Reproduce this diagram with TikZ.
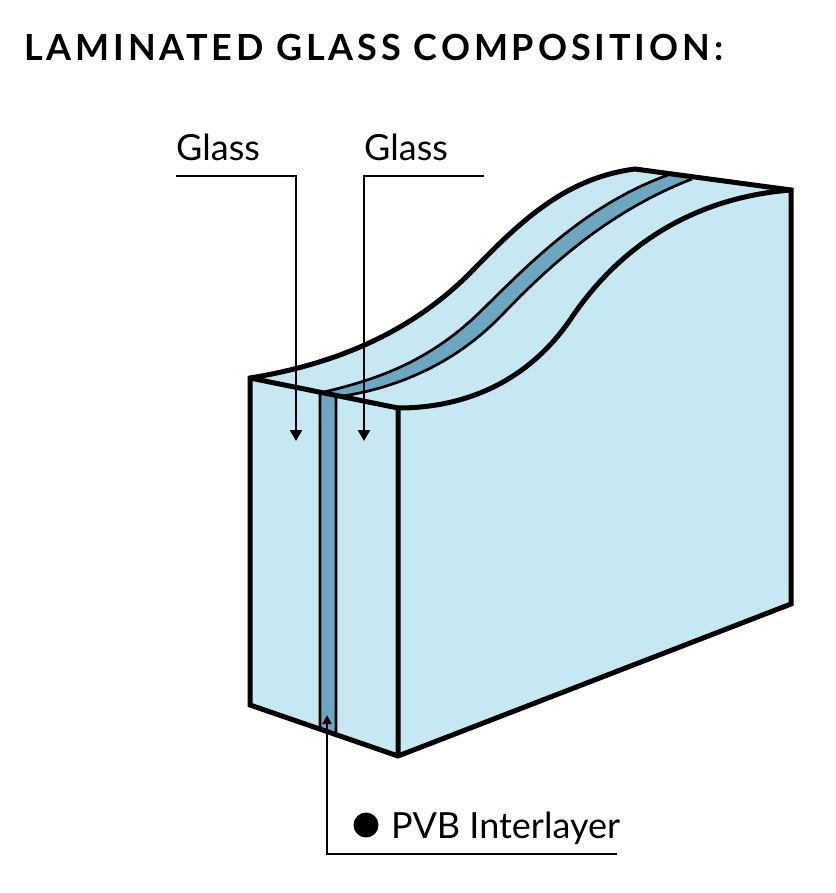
\documentclass[tikz,border=0pt]{standalone}
\usepackage{fontspec}
\setmainfont{Lato}
\newfontfamily\titlefont[LetterSpace=10.8]{Lato Bold}
\usetikzlibrary{arrows.meta}
\definecolor{glass}{HTML}{C5E8F2}
\definecolor{pvb}{HTML}{6CA6C1}
\tikzset{
  x=1pt,y=-1pt,
  edge/.style={draw=black,line width=5pt,line join=miter,miter limit=3},
  thin edge/.style={draw=black,line width=2.7pt},
  leader/.style={draw=black,line width=2.4pt},
  arrowed/.style={leader,-{Triangle[width=12pt,length=11pt]}},
  small arrowed/.style={leader,-{Triangle[width=9pt,length=9pt]}},
  label/.style={inner sep=0pt,anchor=base west,font=\fontsize{36}{36}\selectfont},
}
\begin{document}
\begin{tikzpicture}
\useasboundingbox (0,0) rectangle (835,893);
\coordinate (tl) at (250,378);
\coordinate (tm) at (398,408);
\coordinate (tb) at (635,169);
\coordinate (tr) at (791,190);
\coordinate (bl) at (250,705);
\coordinate (bm) at (398,756);
\coordinate (br) at (791,604);
\coordinate (pl) at (320,393);
\coordinate (pr) at (336,397);
\coordinate (pbl) at (320,730);
\coordinate (pbr) at (336,736);
\coordinate (ptl) at (668,175);
\coordinate (ptr) at (692,179);
% faces
\fill[glass] (tl) .. controls (330,365) and (410,335) .. (473,270)
  .. controls (520,222) and (565,178) .. (tb) -- (tr) -- (br) -- (bm) -- (bl) -- cycle;
\fill[pvb] (pbl) -- (pl) .. controls (375,380) and (428,363) .. (481,311)
  .. controls (528,265) and (585,205) .. (ptl) -- (ptr)
  .. controls (607,212) and (547,268) .. (502,315)
  .. controls (452,367) and (390,390) .. (pr) -- (pbr) -- cycle;
% interlayer outlines
\draw[thin edge] (pbl) -- (pl) .. controls (375,380) and (428,363) .. (481,311)
  .. controls (528,265) and (585,205) .. (ptl);
\draw[thin edge] (pbr) -- (pr) .. controls (390,390) and (452,367) .. (502,315)
  .. controls (547,268) and (607,212) .. (ptr);
% main outline
\draw[edge] (tm) .. controls (470,408) and (530,378) .. (570,320)
  .. controls (600,275) and (665,200) .. (tr);
\draw[edge] (tl) -- (tm) -- (bm);
\draw[edge] (tl) .. controls (330,365) and (410,335) .. (473,270)
  .. controls (520,222) and (565,178) .. (tb) -- (tr) -- (br) -- (bm) -- (bl) -- cycle;
% title
\node[inner sep=0pt,anchor=base west,font=\titlefont\fontsize{36}{36}\selectfont] (title) at (24,61) {LAMINATED GLASS COMPOSITION:};
% labels
\node[label] (g1) at (176,161) {Glass};
\node[label] (g2) at (364,161) {Glass};
\node[label] (pv) at (391,838) {PVB Interlayer};
\node[circle,fill=black,minimum size=25pt,inner sep=0pt] (dot) at (366,825) {};
% leaders
\coordinate (a1) at (176,176);
\coordinate (a1c) at (296,176);
\coordinate (a1e) at (296,441);
\coordinate (a2) at (484,176);
\coordinate (a2c) at (364,176);
\coordinate (a2e) at (364,441);
\coordinate (a3) at (617,854);
\coordinate (a3c) at (327,854);
\coordinate (a3e) at (327,715);
\draw[arrowed] (a1) -- (a1c) -- (a1e);
\draw[arrowed] (a2) -- (a2c) -- (a2e);
\draw[small arrowed] (a3) -- (a3c) -- (a3e);
\end{tikzpicture}
\end{document}
